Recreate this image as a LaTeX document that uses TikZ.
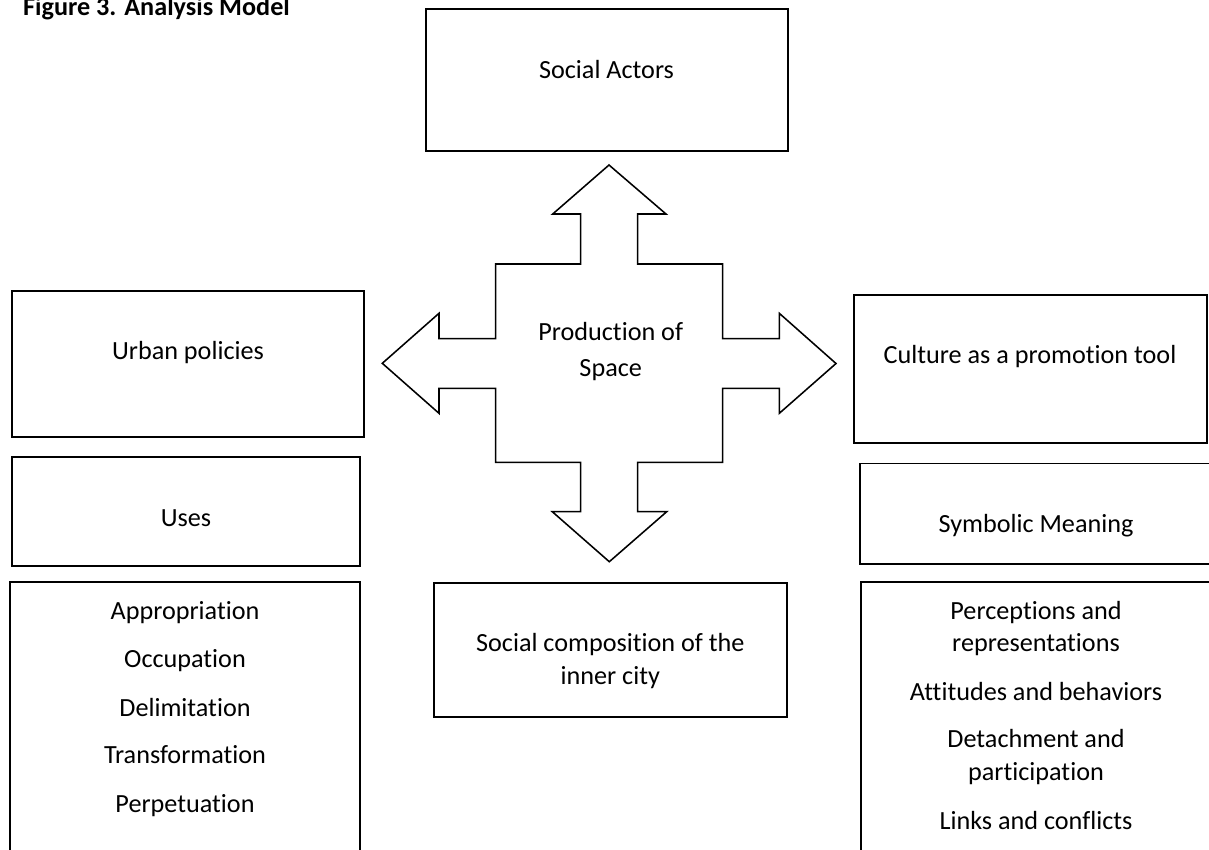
\documentclass[tikz,border=0pt]{standalone}
\usepackage{fontspec}
\setmainfont{Carlito}[Ligatures=NoCommon]
\usetikzlibrary{fit}
\begin{document}
\begin{tikzpicture}[x=0.42pt,y=-0.42pt,
  box/.style={draw=black,line width=0.75pt,inner sep=0pt},
  lbl/.style={anchor=base,inner sep=0pt,font=\fontsize{11}{13.4}\selectfont},
  crossline/.style={draw=black,line width=0.65pt,line join=miter}]
\fill[white] (0,0) rectangle (1209,849);
\useasboundingbox (0,0) rectangle (1209,849);

% title
\node[anchor=base west,inner sep=0pt,font=\fontsize{11}{13.4}\selectfont\bfseries] (title) at (22.7,15) {Figure 3. Analysis Model};

% boxes
\node[box,fit={(426,9.3) (787.7,150.7)}] (actors) {};
\node[box,fit={(11.7,290.9) (364.3,436.8)}] (policies) {};
\node[box,fit={(12,457) (360.3,565.6)}] (uses) {};
\node[box,fit={(10,581.9) (360.3,870)}] (useslist) {};
\node[box,fit={(854,295) (1206.7,443.3)}] (culture) {};
\node[box,fit={(860,463.5) (1225,564)}] (symbolic) {};
\node[box,fit={(860.7,581.9) (1225,870)}] (meaninglist) {};
\node[box,fit={(434,582.7) (786.7,717.3)}] (inner) {};

% central four-way arrow
\draw[crossline]
  (609,165) -- (666,214) -- (637.7,214) -- (637.7,264) -- (722.7,264) -- (722.7,338.7)
  -- (779.3,338.7) -- (779.3,313.3) -- (836,363.5) -- (779.3,413.3) -- (779.3,388.3)
  -- (722.7,388.3) -- (722.7,462.3) -- (637.7,462.3) -- (637.7,511.7) -- (666.7,511.7)
  -- (609.3,561.7) -- (552.3,511.7) -- (580.7,511.7) -- (580.7,462.3) -- (495.7,462.3)
  -- (495.7,388.3) -- (439,388.3) -- (439,413.3) -- (382.3,363.3) -- (439,313.3)
  -- (439,338.7) -- (495.7,338.7) -- (495.7,264) -- (580.7,264) -- (580.7,214)
  -- (552.7,214) -- cycle;

% texts
\node[lbl] (tProd1) at (610.7,340.2) {Production of};
\node[lbl] (tProd2) at (610.7,376.8) {Space};
\node[lbl] (tActors) at (606.5,78.5) {Social Actors};
\node[lbl] (tPolicies) at (188,359.3) {Urban policies};
\node[lbl] (tUses) at (186,526.2) {Uses};
\node[lbl] (tU1) at (185,619.5) {Appropriation};
\node[lbl] (tU2) at (185,667.5) {Occupation};
\node[lbl] (tU3) at (185,716) {Delimitation};
\node[lbl] (tU4) at (185,763.8) {Transformation};
\node[lbl] (tU5) at (185,812.8) {Perpetuation};
\node[lbl] (tCulture) at (1030,363.6) {Culture as a promotion tool};
\node[lbl] (tSymbolic) at (1036,532.3) {Symbolic Meaning};
\node[lbl] (tM1a) at (1036,619.5) {Perceptions and};
\node[lbl] (tM1b) at (1036,651.3) {representations};
\node[lbl] (tM2) at (1036,700.3) {Attitudes and behaviors};
\node[lbl] (tM3a) at (1036,747.5) {Detachment and};
\node[lbl] (tM3b) at (1036,780.1) {participation};
\node[lbl] (tM4) at (1036,829.1) {Links and conflicts};
\node[lbl] (tInner1) at (610.3,651) {Social composition of the};
\node[lbl] (tInner2) at (610.3,684.5) {inner city};
\end{tikzpicture}
\end{document}
